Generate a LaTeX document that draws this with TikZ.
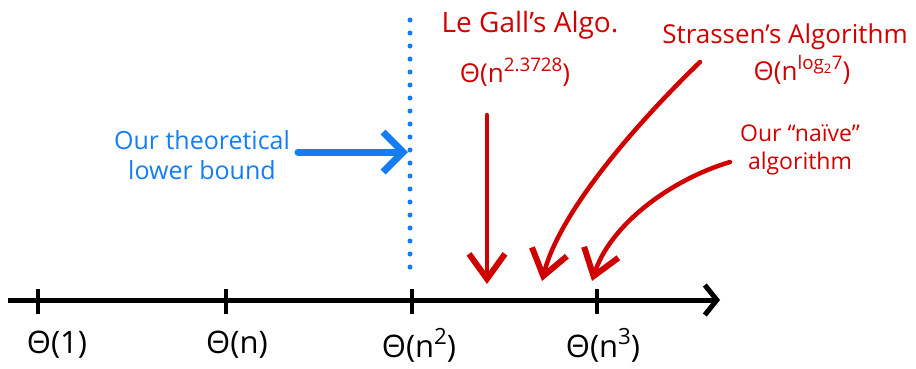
\documentclass[tikz,border=0pt]{standalone}
\usepackage{fontspec}
\setmainfont{Open Sans}
\usetikzlibrary{arrows.meta}
\definecolor{inkred}{RGB}{208,0,0}
\definecolor{inkblue}{RGB}{20,125,245}
\makeatletter
\newcommand{\hsup}[1]{\raisebox{0.42em}{\fontsize{\dimexpr 0.72\dimexpr\f@size pt\relax\relax}{1em}\selectfont #1}}
\makeatother
\begin{document}
\begin{tikzpicture}[x=1pt,y=-1pt,
  axisline/.style={line width=5pt,draw=black,-{Straight Barb[length=12pt,width=30pt,line width=5pt]}},
  tickmark/.style={line width=4.5pt,draw=black},
  redarrow/.style={line width=4.5pt,draw=inkred,line cap=round,-{Straight Barb[length=25pt,width=36pt,line width=6pt]}},
  bluearrow/.style={line width=7pt,draw=inkblue,line cap=round,-{Straight Barb[length=20pt,width=40pt,line width=7pt]}},
  dotline/.style={draw=inkblue,line width=5pt,line cap=round,dash pattern=on 0pt off 13pt},
  ticklabel/.style={font=\fontsize{31}{34}\selectfont,text=black,inner sep=0pt},
  redtext/.style={font=\fontsize{26}{30}\selectfont,text=inkred,inner sep=0pt,align=center},
  bluetext/.style={font=\fontsize{25}{30}\selectfont,text=inkblue,inner sep=0pt,align=center}]
\useasboundingbox (0,0) rectangle (916,368);
% axis
\coordinate (axstart) at (8,300);
\coordinate (axend) at (720,300);
\draw[axisline] (axstart) -- (axend);
\foreach \n/\x in {t1/38,t2/226,t3/412,t4/597}{
  \coordinate (\n top) at (\x,289);
  \coordinate (\n bot) at (\x,314);
  \draw[tickmark] (\n top) -- (\n bot);
}
\node[ticklabel] (l1) at (57,345) {Θ(1)};
\node[ticklabel] (l2) at (237,345) {Θ(n)};
\node[ticklabel] (l3) at (419,345) {Θ(n\hsup{2})};
\node[ticklabel] (l4) at (603,345) {Θ(n\hsup{3})};
% blue
\coordinate (dtop) at (410,20);
\coordinate (dbot) at (410,280);
\draw[dotline] (dtop) -- (dbot);
\node[bluetext] (lower) at (202,155) {Our theoretical\\lower bound};
\coordinate (bstart) at (298,152);
\coordinate (barrowend) at (408,152);
\draw[bluearrow] (bstart) -- (barrowend);
% red texts
\node[redtext,font=\fontsize{28}{30}\selectfont] (legall) at (530,25) {Le Gall's Algo.};
\node[redtext] (legallO) at (515,72) {Θ(n\hsup{2.3728})};
\node[redtext] (strassen) at (785,37) {Strassen's Algorithm};
\node[redtext] (strassenO) at (802,70) {Θ(n\hsup{log\textsubscript{2}7})};
\node[redtext,font=\fontsize{23}{28}\selectfont] (naive) at (800,150) {Our “naïve”\\algorithm};
% red arrows
\coordinate (lgs) at (487,115);
\coordinate (lge) at (487,284);
\draw[redarrow] (lgs) -- (lge);
\coordinate (sts) at (700,62);
\coordinate (ste) at (542,281);
\draw[redarrow] (sts) .. controls (640,120) and (560,210) .. (ste);
\coordinate (nvs) at (730,162);
\coordinate (nve) at (592,281);
\draw[redarrow] (nvs) .. controls (670,180) and (610,225) .. (nve);
\end{tikzpicture}
\end{document}
